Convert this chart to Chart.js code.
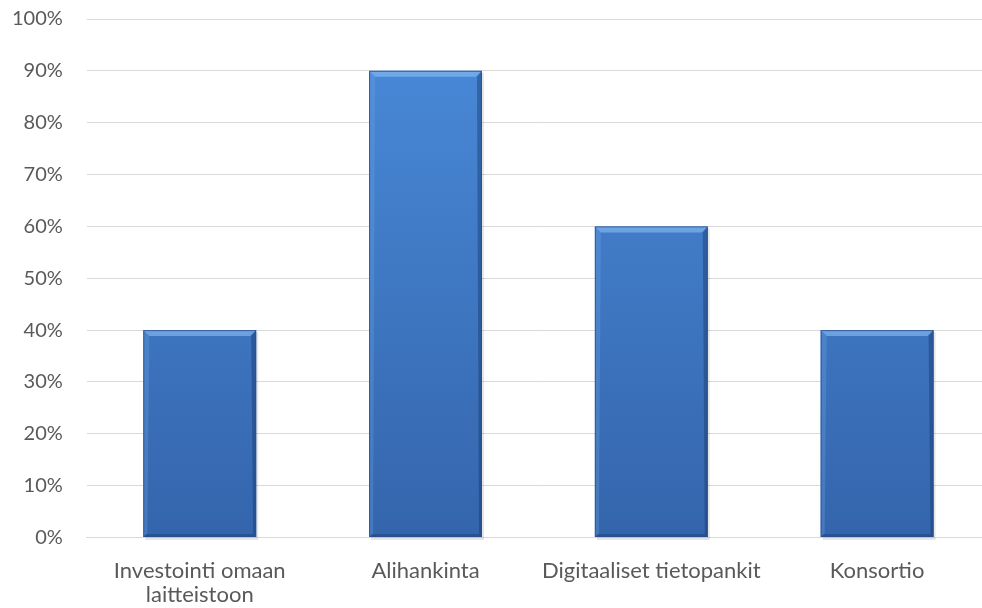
<!DOCTYPE html>
<html>
<head>
<meta charset="utf-8">
<script src="https://cdn.jsdelivr.net/npm/chart.js@4"></script>
<style>
  html, body { margin: 0; padding: 0; background: #fff; overflow: hidden; }
  #wrap { width: 1012px; height: 640px; margin-left: -22px; margin-top: -17px; }
</style>
</head>
<body>
<div id="wrap"><canvas id="chart"></canvas></div>
<script>
const categories = [['Investointi omaan', 'laitteistoon'], 'Alihankinta', 'Digitaaliset tietopankit', 'Konsortio'];
const shares = [40, 90, 60, 40];
const yTicks = [0, 10, 20, 30, 40, 50, 60, 70, 80, 90, 100];

// bevel edges + soft shadow, like the office chart style
const bevel = {
    id: 'bevel',
    beforeDatasetsDraw(chart) {
        const c = chart.ctx;
        chart.getDatasetMeta(0).data.forEach(bar => {
            const l = bar.x - bar.width / 2;
            c.save();
            c.fillStyle = 'rgba(0,0,0,0.10)';
            c.fillRect(l + 2, bar.y + 2, bar.width, bar.base - bar.y + 1);
            c.restore();
        });
    },
    afterDatasetsDraw(chart) {
        const c = chart.ctx;
        chart.getDatasetMeta(0).data.forEach(bar => {
            const l = bar.x - bar.width / 2, r = bar.x + bar.width / 2;
            const t = bar.y, b = bar.base;
            c.save();
            // top light edge
            c.fillStyle = 'rgba(140,190,245,0.6)';
            c.beginPath();
            c.moveTo(l, t); c.lineTo(r, t); c.lineTo(r - 6, t + 6); c.lineTo(l + 6, t + 6);
            c.closePath(); c.fill();
            // left edge
            c.fillStyle = 'rgba(110,165,230,0.3)';
            c.beginPath();
            c.moveTo(l, t); c.lineTo(l + 6, t + 6); c.lineTo(l + 4, b - 3); c.lineTo(l, b);
            c.closePath(); c.fill();
            // right edge
            c.fillStyle = 'rgba(20,50,100,0.4)';
            c.beginPath();
            c.moveTo(r, t); c.lineTo(r - 5, t + 6); c.lineTo(r - 3, b - 3); c.lineTo(r, b);
            c.closePath(); c.fill();
            // bottom edge
            c.fillStyle = 'rgba(20,50,100,0.35)';
            c.beginPath();
            c.moveTo(l, b); c.lineTo(l + 3, b - 3); c.lineTo(r - 3, b - 3); c.lineTo(r, b);
            c.closePath(); c.fill();
            c.strokeStyle = 'rgba(40,80,140,0.8)';
            c.lineWidth = 1;
            c.strokeRect(l + 0.5, t + 0.5, bar.width - 1, b - t - 1);
            c.restore();
        });
    }
};

document.addEventListener('DOMContentLoaded', function () {
    const ctx = document.getElementById('chart');
    new Chart(ctx, {
        type: 'bar',
        data: {
            labels: categories,
            datasets: [{
                data: shares,
                backgroundColor: function (context) {
                    const area = context.chart.chartArea;
                    if (!area) return '#3f7fd0';
                    const g = context.chart.ctx.createLinearGradient(0, area.top, 0, area.bottom);
                    g.addColorStop(0, '#4a8bda');
                    g.addColorStop(1, '#3465ac');
                    return g;
                },
                borderWidth: 0,
                categoryPercentage: 1,
                barPercentage: 0.5
            }]
        },
        options: {
            responsive: true,
            maintainAspectRatio: false,
            animation: false,
            layout: { padding: { top: 6, left: 10, right: 0, bottom: 2 } },
            plugins: {
                legend: { display: false },
                tooltip: { enabled: false }
            },
            scales: {
                x: {
                    grid: { display: false },
                    border: { color: '#d9d9d9' },
                    ticks: {
                        color: '#595959',
                        font: { family: 'Lato', size: 22, lineHeight: 1.08 },
                        maxRotation: 0,
                        padding: 14
                    }
                },
                y: {
                    min: 0,
                    max: 100,
                    afterBuildTicks: axis => { axis.ticks = yTicks.map(v => ({ value: v })); },
                    grid: { color: '#d9d9d9', drawTicks: false },
                    border: { display: false },
                    ticks: {
                        color: '#595959',
                        font: { family: 'Lato', size: 20 },
                        padding: 24,
                        callback: val => val + '%'
                    }
                }
            }
        },
        plugins: [bevel]
    });
});
</script>
</body>
</html>
